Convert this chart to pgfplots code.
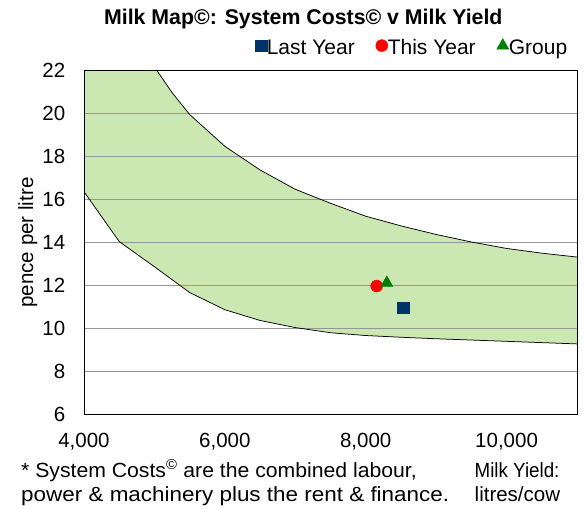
\documentclass[border=0pt]{standalone}
\usepackage{fontspec}
\setmainfont{Liberation Sans}
\usepackage{pgfplots}
\pgfplotsset{compat=1.18}
\usepackage{pgfplotstable}
\definecolor{bandc}{RGB}{204,232,178}
\definecolor{navy}{RGB}{0,51,102}
\definecolor{grp}{RGB}{0,128,0}
\definecolor{gridc}{RGB}{150,150,150}
\newcommand{\fs}{\fontsize{20.5bp}{24bp}\selectfont}

\pgfplotstableread{
x y
5030 22.0
5250 20.95
5500 19.93
6000 18.45
6500 17.35
7000 16.45
7500 15.8
8000 15.2
8500 14.75
9000 14.35
9500 14.0
10000 13.7
10500 13.48
11000 13.3
}\uppercurve

\pgfplotstableread{
x y
4000 16.34
4500 14.02
5000 12.85
5500 11.65
6000 10.85
6500 10.35
7000 10.02
7500 9.78
8000 9.65
8500 9.57
9000 9.5
9500 9.44
10000 9.38
10500 9.32
11000 9.26
}\lowercurve

\pgfplotstableread{
x y
4000 22.0
5030 22.0
5250 20.95
5500 19.93
6000 18.45
6500 17.35
7000 16.45
7500 15.8
8000 15.2
8500 14.75
9000 14.35
9500 14.0
10000 13.7
10500 13.48
11000 13.3
11000 9.26
10500 9.32
10000 9.38
9500 9.44
9000 9.5
8500 9.57
8000 9.65
7500 9.78
7000 10.02
6500 10.35
6000 10.85
5500 11.65
5000 12.85
4500 14.02
4000 16.34
}\bandtable

\begin{document}
\begin{tikzpicture}
\begin{axis}[
  set layers,
  at={(84bp,95bp)}, anchor=south west,
  width=493bp, height=344bp, scale only axis,
  xmin=4000, xmax=11000, ymin=6, ymax=22,
  xtick={4000,6000,8000,10000},
  xticklabels={{4,000},{6,000},{8,000},{10,000}},
  scaled x ticks=false,
  ytick={6,8,...,22},
  ymajorgrids,
  grid style={gridc, line width=0.75bp},
  major tick length=0pt,
  axis line style={black, line width=0.75bp},
  tick label style={font=\fs, inner sep=0pt},
  xticklabel style={anchor=north, yshift=-19.3bp},
  yticklabel style={anchor=east, xshift=-18.5bp},
  /pgf/number format/assume math mode=true,
  legend columns=3,
  legend style={at={(axis description cs:0.3473,1)}, anchor=south west,
    yshift=14bp, draw=none, fill=none, inner sep=0pt, outer sep=0pt,
    font=\fontsize{21bp}{24bp}\selectfont,
    nodes={inner sep=0pt},
    /tikz/every even column/.append style={column sep=21bp}},
  legend image code/.code={\draw[mark repeat=2,mark phase=2,#1] plot coordinates {(0bp,2bp)(6bp,2bp)(13bp,2bp)};},
]
\addplot[on layer=axis background, fill=bandc, draw=none, forget plot] table {\bandtable};
\addplot[black, line width=0.75bp, forget plot] table {\uppercurve};
\addplot[black, line width=0.75bp, forget plot] table {\lowercurve};
\addplot[only marks, mark=square*, mark size=5.8bp, color=navy] coordinates {(8530,10.95)};
\addlegendentry{Last Year}
\addplot[only marks, mark=*, mark size=6bp, color=red] coordinates {(8155,11.95)};
\addlegendentry{This Year}
\addplot[only marks, mark=triangle*, mark size=7bp, color=grp] coordinates {(8300,12.1)};
\addlegendentry{Group}
\end{axis}
\node[anchor=base, font=\fontsize{21.3bp}{25bp}\selectfont\bfseries] at (303.3bp,484bp) {Milk Map©: System Costs© v Milk Yield};
\node[rotate=90, anchor=base, font=\fs] at (33bp,266.5bp) {pence per litre};
\node[anchor=base west, inner sep=0pt, font=\fs, xscale=1.034] at (21bp,31.7bp) {* System Costs\textsuperscript{©} are the combined labour,};
\node[anchor=base west, inner sep=0pt, font=\fs, xscale=1.095] at (21bp,7.3bp) {power \& machinery plus the rent \& finance.};
\node[anchor=base west, inner sep=0pt, font=\fs, xscale=0.915] at (474.5bp,31.7bp) {Milk Yield:};
\node[anchor=base west, inner sep=0pt, font=\fs] at (474.5bp,7.3bp) {litres/cow};
\pgfresetboundingbox
\useasboundingbox (0,0) rectangle (584bp,509bp);
\end{tikzpicture}
\end{document}
